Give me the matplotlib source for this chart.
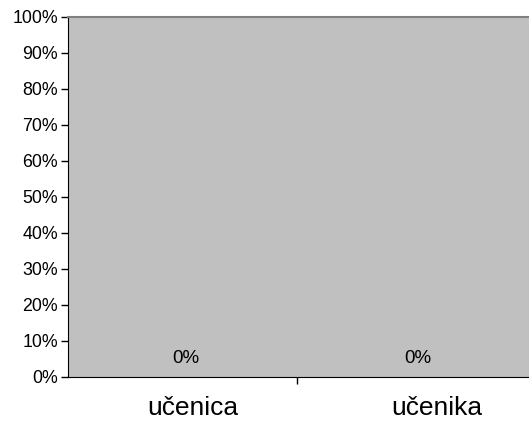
import matplotlib.pyplot as plt
from matplotlib.ticker import PercentFormatter, FixedLocator
from matplotlib.transforms import ScaledTranslation

categories = ['učenica', 'učenika']
values = [0, 0]
y_ticks = list(range(0, 101, 10))

plt.rcParams['font.family'] = ['Liberation Sans', 'DejaVu Sans']

fig = plt.figure(figsize=(5.29, 4.21), dpi=100)
ax = fig.add_axes([67.7 / 529, 1 - 376.7 / 421, 1 - 67.7 / 529, 360 / 421])
ax.set_facecolor('#C0C0C0')

x = list(range(len(categories)))
bars = ax.bar(x, values, width=0.6, color='#9999FF')
value_labels = ax.bar_label(bars, labels=[f'{v:.0f}%' for v in values],
                            padding=7, fontsize=13.5)
# the original labels sit a little right of the category centres
for lab, dx in zip(value_labels, [2.5, 4.5]):
    lab.xyann = (dx, 7)

ax.set_ylim(0, 100)
ax.set_xlim(-0.5, 1.513)
ax.set_yticks(y_ticks)
ax.yaxis.set_major_formatter(PercentFormatter(decimals=0))
ax.tick_params(axis='y', labelsize=12.8, length=5, width=1, direction='out', pad=2)

ax.set_xticks(x)
ax.set_xticklabels(categories, fontsize=19)
ax.xaxis.set_minor_locator(FixedLocator([0.5]))
ax.tick_params(axis='x', which='major', length=0, pad=14)
ax.tick_params(axis='x', which='minor', length=5, width=1)
for lab, dx in zip(ax.get_xticklabels(), [11, 25]):
    lab.set_transform(lab.get_transform() + ScaledTranslation(dx / 100, 0, fig.dpi_scale_trans))

ax.spines['left'].set_color('black')
ax.spines['bottom'].set_color('black')
ax.spines['top'].set_color('#808080')
ax.spines['top'].set_linewidth(1.5)
ax.spines['right'].set_visible(False)

fig.savefig('out.png', dpi=100)
